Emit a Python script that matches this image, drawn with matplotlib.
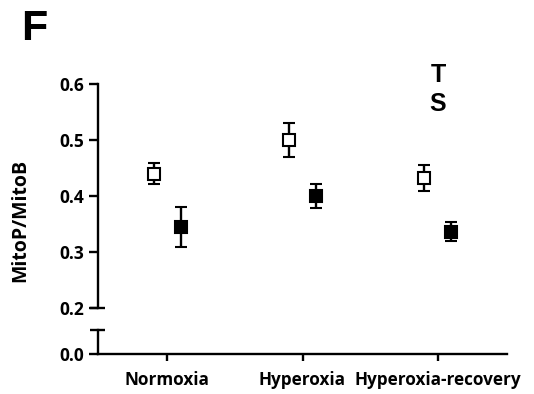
import matplotlib
matplotlib.use("Agg")
import matplotlib.pyplot as plt
import numpy as np

plt.rcParams['font.family'] = ['Open Sans', 'DejaVu Sans']

groups = ["Normoxia", "Hyperoxia", "Hyperoxia-recovery"]
open_mean = [0.440, 0.500, 0.432]
open_err = [0.019, 0.030, 0.023]
filled_mean = [0.345, 0.400, 0.336]
filled_err = [0.036, 0.022, 0.017]
upper_ticks = [0.2, 0.3, 0.4, 0.5, 0.6]

W, H = 534, 394
fig = plt.figure(figsize=(W / 100, H / 100), dpi=100)

def px_axes(x0, x1, ytop, ybot):
    return fig.add_axes([x0 / W, (H - ybot) / H, (x1 - x0) / W, (ybot - ytop) / H])

ax = px_axes(98, 507, 84, 308)
axb = px_axes(98, 507, 330, 354)

x = np.arange(len(groups))
off = 0.1
lw = 1.7

ax.errorbar(x - off, open_mean, yerr=open_err, fmt='s', mfc='white', mec='black',
            mew=1.5, ms=8.3, ecolor='black', elinewidth=lw, capsize=4.5, capthick=lw, zorder=3)
ax.errorbar(x + off, filled_mean, yerr=filled_err, fmt='s', mfc='black', mec='black',
            mew=1.5, ms=8.3, ecolor='black', elinewidth=lw, capsize=4.5, capthick=lw, zorder=3)

for a in (ax, axb):
    a.set_xlim(-0.51, 2.51)
    for s in ['top', 'right']:
        a.spines[s].set_visible(False)
    a.spines['left'].set_linewidth(lw)
    a.spines['bottom'].set_linewidth(lw)
    a.tick_params(width=lw, length=6.5, labelsize=12.5)

ax.set_ylim(0.2, 0.6)
ax.set_yticks(upper_ticks)
ax.set_yticklabels([f"{v:.1f}" for v in upper_ticks], fontweight='bold')
ax.spines['bottom'].set_visible(False)
ax.set_xticks([])

axb.set_ylim(0, 0.05)
axb.set_yticks([0])
axb.set_yticklabels(["0.0"], fontweight='bold')
axb.set_xticks(x)
axb.set_xticklabels(groups, fontweight='bold', fontsize=12.3)
axb.tick_params(axis='x', length=5, pad=7)

# break caps
cap = dict(color='black', lw=lw, clip_on=False, solid_capstyle='butt')
ax.plot([-0.02, 0.017], [0, 0], transform=ax.transAxes, **cap)
axb.plot([-0.02, 0.017], [1, 1], transform=axb.transAxes, **cap)

ax.text(2, 0.6165, 'T', ha='center', va='center', fontsize=18, fontweight='bold',
        family='Liberation Sans')
ax.text(2, 0.565, 'S', ha='center', va='center', fontsize=18, fontweight='bold',
        family='Liberation Sans')

fig.text(20 / W, 1 - 220 / H, 'MitoP/MitoB', rotation=90, ha='center', va='center',
         fontsize=14, fontweight='bold')
fig.text(21 / W, 1 - 29 / H, 'F', ha='left', va='center', fontsize=31, fontweight='bold',
         family='Liberation Sans')

fig.savefig('out.png', dpi=100)
